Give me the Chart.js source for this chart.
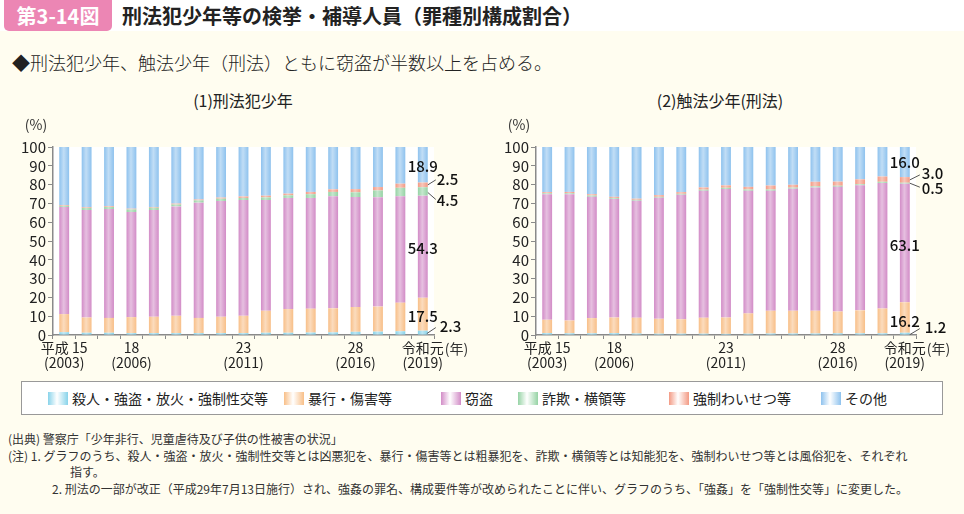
<!DOCTYPE html>
<html lang="ja">
<head>
<meta charset="utf-8">
<script src="https://cdn.jsdelivr.net/npm/chart.js@4.4.1/dist/chart.umd.min.js"></script>
<style>
  body { margin: 0; width: 964px; height: 514px; background: #fffdf0; position: relative; overflow: hidden;
         font-family: "Noto Sans CJK JP", "Noto Sans", sans-serif; color: #222; }
  .head { position: absolute; left: 0; top: 0; width: 964px; height: 31px; background: #fff; }
  .badge { position: absolute; left: 4px; top: 0; width: 108px; height: 31px; background: #ec86b4;
           border-radius: 0 0 5px 5px; color: #fff; font-weight: bold; font-size: 20px; line-height: 31px; text-align: center; }
  .title { position: absolute; left: 122px; top: 0; line-height: 31px; font-size: 20px; font-weight: bold; color: #222; }
  .lead { position: absolute; left: 12px; top: 49px; font-size: 18px; line-height: 26px; font-weight: 300; }
  .ctitle { position: absolute; top: 89px; font-size: 16px; line-height: 22px; transform: translateX(-50%); white-space: nowrap; }
  .wrap { position: absolute; top: 110px; height: 270px; }
  .legend { position: absolute; left: 21px; top: 381px; width: 920px; height: 32px; background: #fff; border: 1px solid #999; }
  .item { position: absolute; top: 0; line-height: 32px; font-size: 14px; white-space: nowrap; }
  .sw { display: inline-block; width: 20px; height: 13px; vertical-align: -1px; margin-right: 4px; }
  .notes { position: absolute; left: 8px; top: 431px; font-size: 12px; line-height: 16.5px; color: #333; }
  .notes div { white-space: nowrap; }
</style>
</head>
<body>
<div class="head"></div>
<div class="badge">第3-14図</div>
<div class="title">刑法犯少年等の検挙・補導人員（罪種別構成割合）</div>
<div class="lead">◆刑法犯少年、触法少年（刑法）ともに窃盗が半数以上を占める。</div>
<div class="ctitle" style="left:243px">(1)刑法犯少年</div>
<div class="ctitle" style="left:720px">(2)触法少年(刑法)</div>
<div class="wrap" style="left:0;width:480px"><canvas id="leftChart" width="480" height="270"></canvas></div>
<div class="wrap" style="left:483px;width:481px"><canvas id="rightChart" width="481" height="270"></canvas></div>
<div class="legend" id="legend"></div>
<div class="notes">
  <div>(出典) 警察庁「少年非行、児童虐待及び子供の性被害の状況」</div>
  <div>(注) 1. グラフのうち、殺人・強盗・放火・強制性交等とは凶悪犯を、暴行・傷害等とは粗暴犯を、詐欺・横領等とは知能犯を、強制わいせつ等とは風俗犯を、それぞれ</div>
  <div style="padding-left:62px">指す。</div>
  <div style="padding-left:44px">2. 刑法の一部が改正（平成29年7月13日施行）され、強姦の罪名、構成要件等が改められたことに伴い、グラフのうち、「強姦」を「強制性交等」に変更した。</div>
</div>
<script>
// years 2003 - 2019
const years = ['2003','2004','2005','2006','2007','2008','2009','2010','2011','2012','2013','2014','2015','2016','2017','2018','2019'];
const tickTop = ['平成 15','','','18','','','','','23','','','','','28','','','令和元'];
const tickBottom = ['(2003)','','','(2006)','','','','','(2011)','','','','','(2016)','','','(2019)'];
const yTicks = [0,10,20,30,40,50,60,70,80,90,100];

const seriesNames = ['殺人・強盗・放火・強制性交等','暴行・傷害等','窃盗','詐欺・横領等','強制わいせつ等','その他'];
const seriesColors = ['#88d3ea','#f8bf88','#d28cc7','#96d3a5','#f39a84','#8ec2ee'];

// (1) 刑法犯少年
const leftViolent = [1.5, 1.2, 1.2, 1.0, 1.0, 1.0, 1.0, 1.0, 1.0, 1.2, 1.2, 1.3, 1.4, 1.7, 1.8, 2.0, 2.3];
const leftAssault = [9.6, 8.1, 7.9, 8.5, 8.7, 9.2, 8.1, 8.7, 9.2, 11.7, 12.6, 12.7, 12.8, 13.2, 13.3, 15.2, 17.5];
const leftTheft = [57.0, 57.2, 57.9, 55.9, 56.8, 58.2, 61.3, 61.6, 61.6, 58.9, 59.1, 58.9, 59.6, 58.5, 58.2, 56.6, 54.3];
const leftFraud = [0.6, 1.1, 1.1, 1.4, 1.2, 1.0, 1.2, 1.2, 1.1, 1.4, 1.4, 2.0, 2.3, 2.5, 3.6, 4.5, 4.5];
const leftIndecency = [0.4, 0.4, 0.4, 0.4, 0.4, 0.5, 0.5, 0.6, 0.8, 0.9, 0.9, 1.2, 1.4, 1.7, 1.8, 2.2, 2.5];
const leftOther = [30.9, 32.0, 31.5, 32.8, 31.9, 30.1, 27.9, 26.9, 26.3, 25.9, 24.8, 23.9, 22.5, 22.4, 21.3, 19.5, 18.9];

// (2) 触法少年(刑法)
const rightViolent = [1.0, 0.9, 0.9, 1.0, 0.8, 0.7, 0.7, 0.7, 0.6, 0.7, 0.8, 0.8, 0.8, 0.9, 0.9, 0.9, 1.2];
const rightAssault = [7.1, 6.8, 8.1, 8.3, 8.4, 7.9, 7.7, 8.5, 8.7, 10.8, 12.1, 12.1, 12.1, 11.6, 12.2, 13.2, 16.2];
const rightTheft = [66.8, 67.2, 64.5, 63.1, 62.2, 64.4, 66.2, 67.5, 68.3, 65.2, 63.8, 64.9, 65.6, 66.3, 66.5, 66.8, 63.1];
const rightFraud = [0.5, 0.5, 0.7, 0.5, 0.5, 0.5, 0.5, 0.6, 0.7, 0.7, 0.7, 0.6, 0.6, 0.6, 0.6, 0.6, 0.5];
const rightIndecency = [0.6, 0.7, 0.7, 0.6, 0.6, 0.9, 0.9, 1.2, 1.3, 1.4, 2.1, 1.5, 2.4, 2.2, 2.6, 2.8, 3.0];
const rightOther = [24.0, 23.9, 25.1, 26.5, 27.5, 25.6, 24.0, 21.5, 20.4, 21.2, 20.5, 20.1, 18.5, 18.4, 17.2, 15.7, 16.0];

// legend (shared by both charts)
const legendX = [26, 262, 419, 496, 647, 799];
const legendEl = document.getElementById('legend');
seriesNames.forEach((name, i) => {
    const c = seriesColors[i];
    const item = document.createElement('div');
    item.className = 'item';
    item.style.left = legendX[i] + 'px';
    item.innerHTML = '<span class="sw" style="background:linear-gradient(to right,' + c + ',#ffffff 45%,' + c + ')"></span>' + name;
    legendEl.appendChild(item);
});

const numFont = '500 15px "Noto Sans CJK JP", sans-serif';

// white plot background, bar sheen, "(%)", "(年)" and the value labels of the last bar
const decorPlugin = {
    id: 'decor',
    beforeDraw(chart) {
        const a = chart.chartArea;
        const ctx = chart.ctx;
        ctx.save();
        ctx.fillStyle = '#ffffff';
        ctx.fillRect(a.left, a.top, a.right - a.left, a.bottom - a.top);
        ctx.restore();
    },
    afterDatasetsDraw(chart) {
        const ctx = chart.ctx;
        const first = chart.getDatasetMeta(0).data;
        const last = chart.getDatasetMeta(chart.data.datasets.length - 1).data;
        ctx.save();
        first.forEach((el, i) => {
            const w = el.width;
            const x0 = el.x - w / 2;
            const g = ctx.createLinearGradient(x0, 0, x0 + w, 0);
            g.addColorStop(0, 'rgba(255,255,255,0)');
            g.addColorStop(0.45, 'rgba(255,255,255,0.45)');
            g.addColorStop(1, 'rgba(255,255,255,0)');
            ctx.fillStyle = g;
            ctx.fillRect(x0, last[i].y, w, el.base - last[i].y);
        });
        ctx.restore();
    },
    afterDraw(chart) {
        const ctx = chart.ctx;
        const a = chart.chartArea;
        const xs = chart.scales.x;
        ctx.save();
        ctx.fillStyle = '#333';
        ctx.font = '14px "Noto Sans CJK JP", sans-serif';
        ctx.textAlign = 'center';
        ctx.textBaseline = 'middle';
        ctx.fillText('(%)', a.left - 17, a.top - 22);
        // "(年)" next to the last year label
        const lx = xs.getPixelForValue(years.length - 1);
        ctx.textAlign = 'left';
        ctx.fillText('(年)', lx + ctx.measureText('令和元').width / 2 + 1, a.bottom + 14);

        // value labels for the latest year
        const idx = years.length - 1;
        const labels = chart.options.plugins.decor.labels;
        ctx.font = numFont;
        ctx.fillStyle = '#111';
        ctx.strokeStyle = '#555';
        ctx.lineWidth = 1;
        labels.forEach(l => {
            const el = chart.getDatasetMeta(l.ds).data[idx];
            const midY = (el.y + el.base) / 2;
            const value = chart.data.datasets[l.ds].data[idx].toFixed(1);
            if (l.line) {
                ctx.beginPath();
                ctx.moveTo(el.x + l.line[0], midY + l.line[1]);
                ctx.lineTo(el.x + l.line[2], midY + l.line[3]);
                ctx.stroke();
                ctx.textAlign = 'left';
            } else {
                ctx.textAlign = 'center';
            }
            ctx.fillText(value, el.x + l.dx, midY + l.dy);
        });
        ctx.restore();
    }
};

function makeChart(id, data, padRight, labels) {
    return new Chart(document.getElementById(id), {
        type: 'bar',
        data: {
            labels: years,
            datasets: data.map((d, i) => ({
                label: seriesNames[i],
                data: d,
                backgroundColor: seriesColors[i],
                borderWidth: 0,
                barPercentage: 0.44,
                categoryPercentage: 1
            }))
        },
        plugins: [decorPlugin],
        options: {
            responsive: false,
            animation: false,
            layout: { padding: { top: 37, right: padRight, left: 0, bottom: 0 } },
            plugins: {
                legend: { display: false },
                tooltip: { enabled: false },
                decor: { labels: labels }
            },
            scales: {
                x: {
                    stacked: true,
                    afterFit: s => { s.height = 45; },
                    border: { color: '#8a8a8a', width: 1.5 },
                    grid: { drawOnChartArea: false, tickLength: 4, color: '#8a8a8a' },
                    ticks: {
                        autoSkip: false,
                        maxRotation: 0,
                        padding: 1,
                        color: '#222',
                        font: { family: '"Noto Sans CJK JP", sans-serif', size: 14, lineHeight: 1.1 },
                        callback: (v, i) => tickTop[i] ? [tickTop[i], tickBottom[i]] : ''
                    }
                },
                y: {
                    stacked: true,
                    min: 0,
                    max: 100,
                    afterFit: s => { s.width = 53; },
                    afterBuildTicks: s => { s.ticks = yTicks.map(v => ({ value: v })); },
                    border: { color: '#8a8a8a', width: 1.5 },
                    grid: { drawOnChartArea: false, tickLength: 5, color: '#8a8a8a' },
                    ticks: {
                        autoSkip: false,
                        padding: 2,
                        color: '#222',
                        font: { family: '"Noto Sans CJK JP", sans-serif', size: 15 }
                    }
                }
            }
        }
    });
}

makeChart('leftChart',
    [leftViolent, leftAssault, leftTheft, leftFraud, leftIndecency, leftOther], 46,
    [
        { ds: 5, dx: 0, dy: 2 },
        { ds: 4, dx: 14, dy: -6, line: [5, 0, 13, -5] },
        { ds: 3, dx: 14, dy: 9, line: [5, 1, 13, 8] },
        { ds: 2, dx: 0, dy: 2 },
        { ds: 1, dx: 0, dy: 2 },
        { ds: 0, dx: 17, dy: -6, line: [4, 1, 13, -5] }
    ]);

makeChart('rightChart',
    [rightViolent, rightAssault, rightTheft, rightFraud, rightIndecency, rightOther], 48,
    [
        { ds: 5, dx: 0, dy: 0 },
        { ds: 4, dx: 17, dy: -7, line: [5, 0, 15, -5] },
        { ds: 3, dx: 17, dy: 5, line: [5, 0, 15, 4] },
        { ds: 2, dx: 0, dy: 2 },
        { ds: 1, dx: 0, dy: 4 },
        { ds: 0, dx: 20, dy: -6, line: [5, 1, 15, -5] }
    ]);
</script>
</body>
</html>
